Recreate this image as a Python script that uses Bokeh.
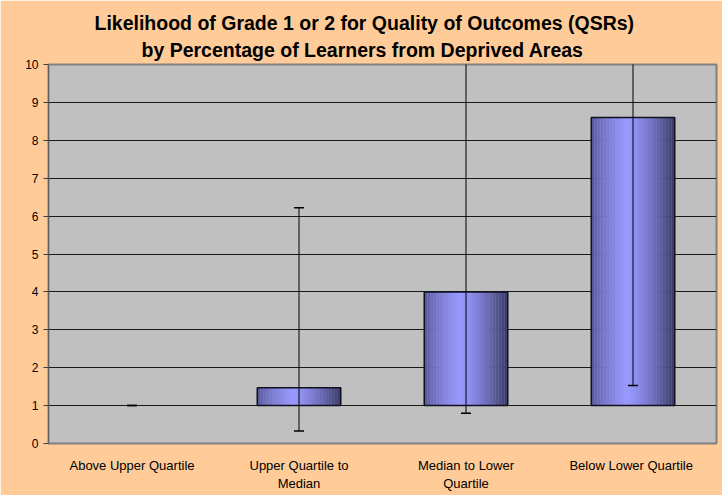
from bokeh.plotting import figure
from bokeh.models import ColumnDataSource, FactorRange, Range1d, FixedTicker, Title
from bokeh.transform import dodge
from bokeh.embed import file_html
from bokeh.resources import INLINE

# ---- data ----
categories = ["Above Upper Quartile", "Upper Quartile to\nMedian",
              "Median to Lower\nQuartile", "Below  Lower Quartile"]
base = [1.0, 1.0, 1.0, 1.0]
values = [1.0, 1.47, 4.0, 8.6]
err_low = [1.0, 0.33, 0.8, 1.53]
err_high = [1.0, 6.22, 11.0, 14.0]   # last two run past the top of the axis
y_ticks = [0, 1, 2, 3, 4, 5, 6, 7, 8, 9, 10]

title_line1 = "Likelihood of Grade 1 or 2 for Quality of Outcomes (QSRs)"
title_line2 = "by Percentage of Learners from Deprived Areas"

FONT = "Liberation Sans"
BAR_W = 0.5

src = ColumnDataSource(dict(
    cat=categories, base=base, top=values, lo=err_low, hi=err_high,
    outline=[1.0 if t > b else 0.0 for t, b in zip(values, base)],
))

p = figure(x_range=FactorRange(factors=categories), y_range=Range1d(0, 10),
           width=722, height=495, output_backend="svg", toolbar_location=None,
           min_border_left=48, min_border_right=6, min_border_top=64,
           min_border_bottom=52)
p.title = None

t2 = Title(text=title_line2, align="left", text_font=FONT, text_font_size="19.5px",
           text_font_style="bold", text_color="black", standoff=7, offset=93)
t1 = Title(text=title_line1, align="left", text_font=FONT, text_font_size="19.5px",
           text_font_style="bold", text_color="black", standoff=0, offset=46)
p.add_layout(t2, "above")
p.add_layout(t1, "above")

p.background_fill_color = "#C0C0C0"
p.border_fill_color = "#FFCC99"
p.outline_line_color = "#808080"
p.outline_line_width = 2

# gridlines
p.xgrid.grid_line_color = None
p.ygrid.grid_line_color = "#1a1a1a"
p.ygrid.grid_line_width = 1
p.yaxis.ticker = FixedTicker(ticks=y_ticks)

# axes styling
p.yaxis.major_label_text_font = FONT
p.yaxis.major_label_text_font_size = "12px"
p.yaxis.major_label_text_color = "black"
p.yaxis.axis_line_color = "#606060"
p.yaxis.major_tick_line_color = "#404040"
p.yaxis.major_tick_out = 5
p.yaxis.major_tick_in = 0
p.yaxis.minor_tick_line_color = None
p.yaxis.major_label_standoff = 5

p.xaxis.major_label_text_font = FONT
p.xaxis.major_label_text_font_size = "13px"
p.xaxis.major_label_text_color = "black"
p.xaxis.axis_line_color = None
p.xaxis.major_tick_line_color = None
p.xaxis.minor_tick_line_color = None
p.xaxis.major_label_standoff = 8

# cylinder-like shading: many thin vertical strips per bar
N = 28
def shade(t):
    left, peak, right = (78, 78, 138), (153, 153, 255), (58, 58, 102)
    tp = 0.42
    if t <= tp:
        f = (t / tp) ** 0.6
        a, b = left, peak
    else:
        f = ((t - tp) / (1 - tp)) ** 1.4
        a, b = peak, right
    c = [round(a[i] + (b[i] - a[i]) * f) for i in range(3)]
    return "#%02x%02x%02x" % tuple(c)

sw = BAR_W / N
for k in range(N):
    t = (k + 0.5) / N
    off = -BAR_W / 2 + (k + 0.5) * sw
    p.vbar(x=dodge("cat", off, range=p.x_range), bottom="base", top="top",
           width=sw * 1.04, source=src, fill_color=shade(t), line_color=None)

# bar outline
p.vbar(x="cat", bottom="base", top="top", width=BAR_W, source=src,
       fill_color=None, line_color="#101020", line_width=1.5, line_alpha="outline")

# error bars
p.segment(x0="cat", y0="lo", x1="cat", y1="hi", source=src,
          line_color="black", line_width=1)
p.scatter(x="cat", y="lo", marker="dash", size=10, source=src,
          line_color="black", line_width=1.5)
p.scatter(x="cat", y="hi", marker="dash", size=10, source=src,
          line_color="black", line_width=1.5)

html = file_html(p, INLINE)
html = html.replace("<body>",
                    '<body style="margin:0;overflow:hidden;background-color:#FFCC99;">', 1)
open("out.html", "w").write(html)
